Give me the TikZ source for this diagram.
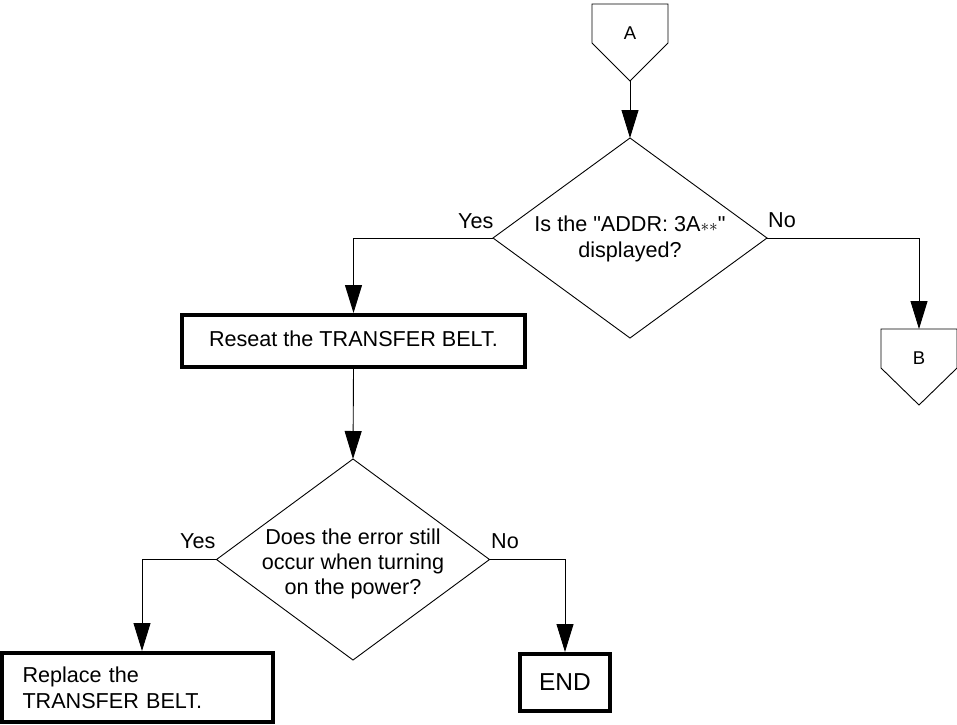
\documentclass[tikz,border=0pt]{standalone}
\usepackage{fontspec}
\setmainfont{Liberation Sans}[Ligatures=TeXOff]
\usetikzlibrary{shapes.geometric,arrows.meta,calc}
\begin{document}
\begin{tikzpicture}[x=1pt,y=-1pt,
  thinline/.style={line width=0.9pt},
  arr/.style={line width=0.9pt,-{Triangle[length=28pt,width=17pt]}},
  dia/.style={draw,shape=diamond,line width=0.9pt,inner sep=0pt,outer sep=0pt,minimum width=274pt,minimum height=200pt},
  box/.style={draw,line width=4pt,inner sep=0pt},
  lbl/.style={font=\fontsize{21.6}{25}\selectfont,inner sep=0pt,anchor=base west},
  txt/.style={font=\fontsize{21.6}{25}\selectfont,align=center,inner sep=0pt},
  pent/.style={font=\fontsize{18.5}{20}\selectfont,inner sep=0pt,anchor=base},
]
\useasboundingbox (0,0) rectangle (957,724);

% connector A
\coordinate (Atip) at (630,81);
\draw[thinline] (592,4) -- (668,4) -- (668,43) -- (Atip) -- (592,43) -- cycle;
\node[pent] (A) at (630,39) {A};

% decision 1
\node[dia] (d1) at (630,238) {};
\node[txt,font=\fontsize{21.6}{26}\selectfont] (t1) at (630,239) {Is the "ADDR: 3A{\fontsize{17}{17}\selectfont$\ast\ast$}"\\displayed?};
\node[lbl] (yes1) at (458,228) {Yes};
\node[lbl] (no1) at (768,227) {No};

% connector B
\coordinate (Btop) at (919,329);
\draw[thinline] (881,329) -- (957,329) -- (957,368) -- (919,405) -- (881,368) -- cycle;
\node[pent] (B) at (919,364) {B};

% reseat
\node[box,minimum width=343pt,minimum height=52pt,text height=15pt,text depth=5pt,font=\fontsize{21.6}{25}\selectfont] (reseat) at (353.5,341) {Reseat the TRANSFER BELT.};

% decision 2
\node[dia,minimum width=273pt,minimum height=201pt] (d2) at (353,559.5) {};
\node[txt] (t2) at (353,564) {Does the error still\\occur when turning\\on the power?};
\node[lbl] (yes2) at (180,548) {Yes};
\node[lbl] (no2) at (491,548) {No};

% replace
\node[box,minimum width=271pt,minimum height=69pt,text width=230pt,align=left,font=\fontsize{21.6}{26}\selectfont] (replace) at (137.5,687.5) {Replace the\\TRANSFER BELT.};

% end
\node[box,minimum width=90pt,minimum height=57pt,font=\fontsize{24.5}{28}\selectfont] (end) at (565,682.5) {END};

% connectors
\draw[arr] (Atip) -- (d1.north);
\draw[arr] (d1.west) -| (reseat.north);
\draw[arr] (d1.east) -| (Btop);
\draw[arr] (reseat.south) -- (d2.north);
\draw[arr] (d2.west) -| ([xshift=4.5pt]replace.north);
\draw[arr] (d2.east) -| (end.north);
\end{tikzpicture}
\end{document}
